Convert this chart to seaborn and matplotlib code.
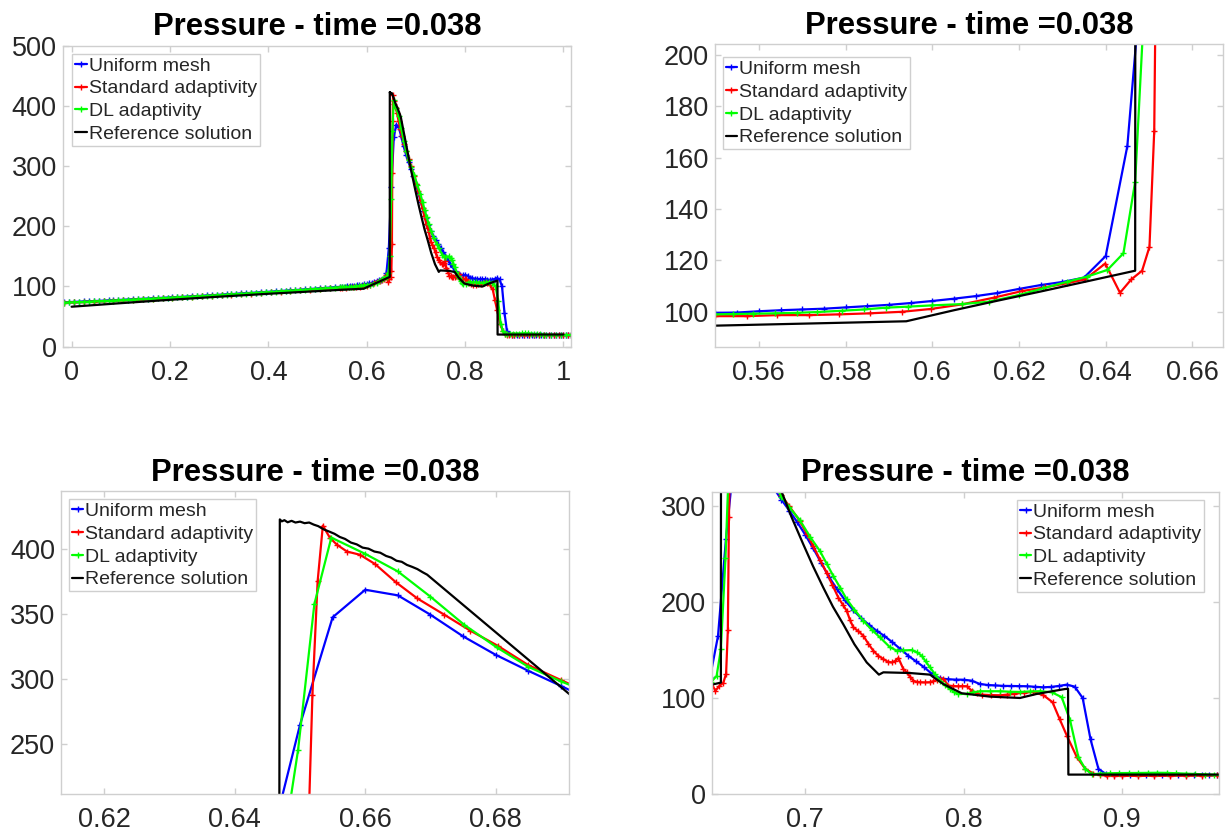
import matplotlib
matplotlib.use("Agg")
import matplotlib.pyplot as plt
from matplotlib.lines import Line2D
import seaborn as sns

# ---------------------------------------------------------------------------
# Pressure profiles at t = 0.038
# ---------------------------------------------------------------------------
# coarse part of the domain (shared sampling for uniform / DL runs)
far_x = [-0.015, -0.005, 0.005, 0.015, 0.025, 0.035, 0.045, 0.055, 0.065, 0.075,
         0.085, 0.095, 0.105, 0.115, 0.125, 0.135, 0.145, 0.155, 0.165, 0.175,
         0.185, 0.195, 0.205, 0.215, 0.225, 0.235, 0.245, 0.255, 0.265, 0.275,
         0.285, 0.295, 0.305, 0.315, 0.325, 0.335, 0.345, 0.355, 0.365, 0.375,
         0.385, 0.395, 0.405, 0.415, 0.425, 0.435, 0.445, 0.455, 0.465, 0.475,
         0.485, 0.495, 0.505, 0.515, 0.525, 0.535, 0.545]

uniform_far_p = [73.8, 74.1, 74.4, 74.8, 75.1, 75.4, 75.8, 76.1, 76.5, 76.8,
                 77.2, 77.6, 77.9, 78.3, 78.7, 79.1, 79.5, 79.9, 80.3, 80.7,
                 81.1, 81.5, 81.9, 82.4, 82.8, 83.2, 83.7, 84.1, 84.6, 85.1,
                 85.5, 86.0, 86.5, 86.9, 87.4, 87.9, 88.4, 88.9, 89.4, 89.9,
                 90.4, 91.0, 91.5, 92.0, 92.6, 93.1, 93.6, 94.2, 94.7, 95.3,
                 95.9, 96.4, 97.0, 97.6, 98.2, 98.8, 99.4]

dl_far_p = [73.2, 73.5, 73.8, 74.2, 74.5, 74.8, 75.2, 75.5, 75.9, 76.2,
            76.6, 77.0, 77.3, 77.7, 78.1, 78.5, 78.9, 79.3, 79.7, 80.1,
            80.5, 80.9, 81.3, 81.8, 82.2, 82.6, 83.1, 83.5, 84.0, 84.5,
            84.9, 85.4, 85.9, 86.3, 86.8, 87.3, 87.8, 88.3, 88.8, 89.3,
            89.8, 90.4, 90.9, 91.4, 92.0, 92.5, 93.0, 93.6, 94.1, 94.7,
            95.3, 95.8, 96.4, 97.0, 97.6, 98.2, 98.7]

# Uniform mesh (h = 0.005) near the shock region
uniform_near_x = [0.550, 0.555, 0.560, 0.565, 0.570, 0.575, 0.580, 0.585, 0.590, 0.595,
                  0.600, 0.605, 0.610, 0.615, 0.620, 0.625, 0.630, 0.635, 0.640, 0.645,
                  0.650, 0.655, 0.660, 0.665, 0.670, 0.675, 0.680, 0.685, 0.690, 0.695,
                  0.700, 0.705, 0.710, 0.715, 0.720, 0.725, 0.730, 0.735, 0.740, 0.745,
                  0.750, 0.755, 0.760, 0.765, 0.770, 0.775, 0.780, 0.785, 0.790, 0.795,
                  0.800, 0.805, 0.810, 0.815, 0.820, 0.825, 0.830, 0.835, 0.840, 0.845,
                  0.850, 0.855, 0.860, 0.865, 0.870, 0.875, 0.880, 0.885, 0.890, 0.895,
                  0.900, 0.905, 0.910, 0.915, 0.920, 0.925, 0.930, 0.935, 0.940, 0.945,
                  0.950, 0.955, 0.960, 0.965, 0.970, 0.975, 0.980, 0.985, 0.990, 0.995,
                  1.000, 1.005, 1.010, 1.015]
uniform_near_p = [99.6, 99.7, 100.2, 100.6, 100.9, 101.2, 101.7, 102.2, 102.7, 103.4,
                  104.2, 105.1, 106.1, 107.3, 108.9, 110.4, 111.6, 113.3, 121.7, 164.6,
                  265.1, 347.7, 368.9, 364.6, 349.7, 333.1, 318.9, 306.6, 295.0, 283.0,
                  270.0, 256.0, 241.0, 226.0, 213.5, 202.0, 192.0, 183.5, 176.5, 170.0,
                  164.5, 158.0, 151.0, 144.0, 138.0, 132.0, 125.0, 120.5, 119.5, 119.1,
                  119.0, 118.0, 114.7, 113.5, 113.0, 112.6, 112.5, 112.5, 112.2, 111.6,
                  111.1, 111.5, 112.5, 113.9, 111.8, 100.0, 56.8, 26.0, 20.5, 19.8,
                  19.7, 19.6, 19.6, 19.5, 19.6, 19.6, 19.5, 19.5, 19.6, 19.6,
                  19.5, 19.5, 19.6, 19.5, 19.5, 19.6, 19.5, 19.5, 19.6, 19.5,
                  19.5, 19.5, 19.6, 19.5]

# Standard adaptivity
std_x = [-0.015, 0.005, 0.025, 0.045, 0.065, 0.085, 0.105, 0.125, 0.145, 0.165,
         0.185, 0.205, 0.225, 0.245, 0.265, 0.285, 0.305, 0.325, 0.345, 0.365,
         0.385, 0.405, 0.425, 0.445, 0.465, 0.485, 0.505, 0.525, 0.545,
         0.5500, 0.5572, 0.5642, 0.5716, 0.5786, 0.5856, 0.5930, 0.5997, 0.6069, 0.6142,
         0.6208, 0.6260, 0.6310, 0.6352, 0.6399, 0.6433, 0.6459, 0.6484, 0.6501, 0.6512,
         0.6519, 0.6527, 0.6535, 0.6546, 0.6557, 0.6572, 0.6592, 0.6615, 0.6647, 0.6680,
         0.6721, 0.6761, 0.6803, 0.6850, 0.6900, 0.6967, 0.7010, 0.7051, 0.7093, 0.7135,
         0.7172, 0.7209, 0.7240, 0.7262, 0.7283, 0.7304, 0.7336, 0.7367, 0.7398, 0.7430,
         0.7462, 0.7493, 0.7520, 0.7546, 0.7568, 0.7588, 0.7619, 0.7640, 0.7661, 0.7682,
         0.7703, 0.7724, 0.7755, 0.7787, 0.7808, 0.7829, 0.7850, 0.7871, 0.7903, 0.7935,
         0.7966, 0.7992, 0.8019, 0.8050, 0.8082, 0.8113, 0.8170, 0.8230, 0.8272, 0.8314,
         0.8377, 0.8440, 0.8503, 0.8560, 0.8605, 0.8650, 0.8713, 0.8766, 0.8818, 0.8860,
         0.8902, 0.8950, 0.900, 0.910, 0.920, 0.930, 0.940, 0.950, 0.960, 0.970,
         0.980, 0.990, 1.000, 1.010, 1.015]
std_p = [73.0, 73.6, 74.2, 74.9, 75.6, 76.3, 77.0, 77.7, 78.5, 79.3,
         80.1, 80.9, 81.8, 82.6, 83.5, 84.4, 85.3, 86.2, 87.2, 88.2,
         89.2, 90.3, 91.3, 92.4, 93.5, 94.6, 95.8, 96.9, 98.0,
         98.3, 98.3, 98.7, 98.7, 99.0, 99.4, 100.0, 101.1, 102.9, 105.5,
         108.1, 109.5, 111.1, 112.6, 118.8, 107.4, 112.6, 116.0, 125.3, 170.5,
         288.0, 375.5, 418.2, 408.7, 403.4, 398.3, 395.8, 388.7, 374.7, 362.2,
         349.8, 337.5, 325.9, 311.0, 299.5, 284.2, 271.0, 258.2, 244.0, 230.5,
         217.5, 204.5, 196.5, 190.7, 181.0, 173.4, 169.5, 164.7, 156.5, 149.1,
         143.8, 140.5, 137.8, 137.0, 138.5, 141.6, 130.1, 126.7, 122.2, 118.0,
         116.8, 116.4, 116.2, 116.4, 117.5, 118.8, 119.3, 120.0, 112.9, 112.4,
         112.2, 112.3, 112.2, 107.7, 105.0, 103.5, 103.0, 102.8, 103.5, 104.2,
         105.5, 106.3, 102.8, 95.6, 78.0, 60.9, 38.5, 26.3, 21.2, 19.8,
         19.1, 18.8, 18.8, 18.9, 18.9, 19.0, 19.1, 19.2, 19.3, 19.3,
         19.4, 19.4, 19.5, 19.5, 19.5]

# DL adaptivity near the shock region
dl_near_x = [0.5500, 0.5540, 0.5586, 0.5637, 0.5688, 0.5735, 0.5791, 0.5842, 0.5893, 0.5944,
             0.6000, 0.6069, 0.6130, 0.6199, 0.6255, 0.6311, 0.6357, 0.6404, 0.6441, 0.6468,
             0.6497, 0.6522, 0.6548, 0.6600, 0.6650, 0.6700, 0.6752, 0.6802, 0.6850, 0.6900,
             0.6967, 0.7030, 0.7093, 0.7135, 0.7177, 0.7220, 0.7261, 0.7310, 0.7366, 0.7420,
             0.7471, 0.7534, 0.7576, 0.7620, 0.7672, 0.7705, 0.7735, 0.7760, 0.7787, 0.7820,
             0.7850, 0.7880, 0.7913, 0.7940, 0.7966, 0.8019, 0.8060, 0.8103, 0.8166, 0.8230,
             0.8292, 0.8355, 0.8418, 0.8481, 0.8555, 0.8618, 0.8671, 0.8723, 0.8766, 0.8808,
             0.886, 0.892, 0.898, 0.904, 0.910, 0.916, 0.922, 0.928, 0.934, 0.940,
             0.946, 0.952, 0.958, 0.965, 0.975, 0.985, 0.995, 1.005, 1.015]
dl_near_p = [99.0, 99.1, 99.25, 99.4, 99.6, 99.9, 100.4, 100.9, 101.6, 102.0,
             102.5, 103.0, 103.9, 106.5, 109.1, 111.7, 113.7, 116.3, 122.8, 150.7,
             245.7, 357.9, 409.0, 396.5, 383.0, 363.6, 341.9, 324.5, 309.7, 298.5,
             285.0, 268.0, 253.0, 240.0, 227.1, 215.0, 203.0, 192.0, 180.5, 171.0,
             163.2, 152.9, 149.4, 149.5, 149.9, 147.5, 144.0, 138.0, 131.9, 124.5,
             118.1, 113.5, 109.4, 106.0, 104.2, 104.2, 105.8, 107.0, 107.0, 107.0,
             106.5, 106.3, 106.8, 107.0, 106.0, 100.8, 76.6, 38.5, 26.3, 20.5,
             21.2, 21.6, 21.8, 21.8, 21.9, 22.0, 22.1, 22.0, 21.6, 21.2,
             20.8, 20.3, 19.9, 19.6, 19.5, 19.5, 19.5, 19.5, 19.5]

# Reference solution
ref_x = [0.0, 0.1, 0.2, 0.3, 0.4, 0.5, 0.55, 0.594, 0.605, 0.615,
         0.625, 0.635, 0.6468, 0.6469, 0.6472, 0.6476, 0.6481, 0.6487, 0.6493, 0.6500,
         0.6507, 0.6514, 0.6521, 0.6528, 0.6536, 0.6545, 0.6553, 0.6561, 0.6569, 0.6578,
         0.6587, 0.6596, 0.6605, 0.6614, 0.6623, 0.6632, 0.6640, 0.6648, 0.6656, 0.6664,
         0.6672, 0.6680, 0.6688, 0.6695, 0.6913, 0.6988, 0.7050, 0.7114, 0.7175, 0.7240,
         0.7310, 0.7388, 0.7465, 0.7493, 0.7660, 0.7787, 0.7871, 0.7987, 0.8165, 0.8355,
         0.8460, 0.8638, 0.8658, 0.8660, 1.0]
ref_p = [66.4, 72.3, 77.9, 83.1, 87.9, 92.3, 94.6, 96.3, 100.6, 104.3,
         107.9, 111.6, 116.0, 423.0, 421.5, 422.4, 420.8, 421.9, 420.6, 421.3,
         420.1, 420.6, 419.0, 417.8, 415.4, 413.6, 411.9, 409.5, 408.0, 405.2,
         403.8, 401.3, 400.5, 398.3, 397.4, 394.9, 393.6, 391.2, 390.4, 388.0,
         386.5, 384.8, 382.4, 380.5, 288.7, 260.0, 237.0, 215.0, 195.0, 176.8,
         156.0, 137.0, 124.3, 126.7, 126.0, 124.3, 114.5, 104.9, 101.4, 100.0,
         104.2, 109.3, 109.6, 20.2, 20.2]

uniform_x = far_x + uniform_near_x
uniform_p = uniform_far_p + uniform_near_p
dl_x = far_x + dl_near_x
dl_p = dl_far_p + dl_near_p

series_names = ["Uniform mesh", "Standard adaptivity", "DL adaptivity", "Reference solution"]
series_colors = ["#0000ff", "#ff0000", "#00ff00", "#000000"]
series_markers = ["+", "+", "+", None]
series_data = [(uniform_x, uniform_p), (std_x, std_p), (dl_x, dl_p), (ref_x, ref_p)]

title_text = "Pressure - time =0.038"

# panel axis ticks
tl_xticks = [0, 0.2, 0.4, 0.6, 0.8, 1.0]
tl_xlabels = ["0", "0.2", "0.4", "0.6", "0.8", "1"]
tl_yticks = [0, 100, 200, 300, 400, 500]
tr_xticks = [0.56, 0.58, 0.60, 0.62, 0.64, 0.66]
tr_xlabels = ["0.56", "0.58", "0.6", "0.62", "0.64", "0.66"]
tr_yticks = [100, 120, 140, 160, 180, 200]
bl_xticks = [0.62, 0.64, 0.66, 0.68]
bl_xlabels = ["0.62", "0.64", "0.66", "0.68"]
bl_yticks = [250, 300, 350, 400]
br_xticks = [0.7, 0.8, 0.9]
br_xlabels = ["0.7", "0.8", "0.9"]
br_yticks = [0, 100, 200, 300]

# ---------------------------------------------------------------------------
sns.set_theme(style="white")
plt.rcParams["font.family"] = ["Liberation Sans", "DejaVu Sans"]

fig = plt.figure(figsize=(12.31, 8.36), dpi=100)

panels = [
    # rect, xlim, ylim, xticks, xlabels, yticks, legend loc, legend anchor
    ([0.05126, 0.58529, 0.41292, 0.36004], (-0.0173, 1.0161), (0, 500),
     tl_xticks, tl_xlabels, tl_yticks, "upper left", (0.0175, 0.9724)),
    ([0.58123, 0.58529, 0.41227, 0.36208], (0.55, 0.66706), (86.4, 204.3),
     tr_xticks, tr_xlabels, tr_yticks, "upper left", (0.0142, 0.956)),
    ([0.04972, 0.05024, 0.41291, 0.36244], (0.61336, 0.69134), (211.8, 444.85),
     bl_xticks, bl_xlabels, bl_yticks, "upper left", (0.0151, 0.9726)),
    ([0.57864, 0.05024, 0.41121, 0.36160], (0.6414, 0.9607), (0, 314.8),
     br_xticks, br_xlabels, br_yticks, "upper right", (0.9721, 0.9725)),
]

spine_color = "#cfcfcf"
text_color = "#262626"

for rect, xlim, ylim, xticks, xlabels, yticks, loc, anchor in panels:
    ax = fig.add_axes(rect)
    for (x, y), color, marker in zip(series_data, series_colors, series_markers):
        sns.lineplot(x=x, y=y, ax=ax, color=color, marker=marker,
                     markersize=4, markeredgewidth=1.0, markeredgecolor=color,
                     linewidth=1.6, sort=False, estimator=None, legend=False)
    ax.set_xlim(*xlim)
    ax.set_ylim(*ylim)
    ax.set_xticks(xticks)
    ax.set_xticklabels(xlabels)
    ax.set_yticks(yticks)
    ax.set_yticklabels([str(v) for v in yticks])
    ax.set_xlabel("")
    ax.set_ylabel("")
    ax.tick_params(axis="both", which="major", direction="in", length=4, width=1,
                   color=spine_color, labelsize=19.5, labelcolor=text_color,
                   top=True, right=True, bottom=True, left=True)
    ax.tick_params(axis="x", pad=9.5)
    ax.tick_params(axis="y", pad=4.5)
    for sp in ax.spines.values():
        sp.set_visible(True)
        sp.set_color(spine_color)
        sp.set_linewidth(1.0)
    ax.set_title(title_text, fontsize=22.3, fontweight="bold", color="black", pad=7.5)

    handles = [Line2D([], [], color=c, marker=m, markersize=4, markeredgewidth=1.0,
                      linewidth=1.6) for c, m in zip(series_colors, series_markers)]
    leg = ax.legend(handles, series_names, loc=loc, bbox_to_anchor=anchor,
                    borderaxespad=0, fontsize=14, handlelength=0.6,
                    handletextpad=0.1, labelspacing=0.27, borderpad=0.15,
                    frameon=True, fancybox=False, framealpha=1.0)
    leg.get_frame().set_edgecolor(spine_color)
    leg.get_frame().set_linewidth(1.0)

fig.savefig("out.png", dpi=100)
